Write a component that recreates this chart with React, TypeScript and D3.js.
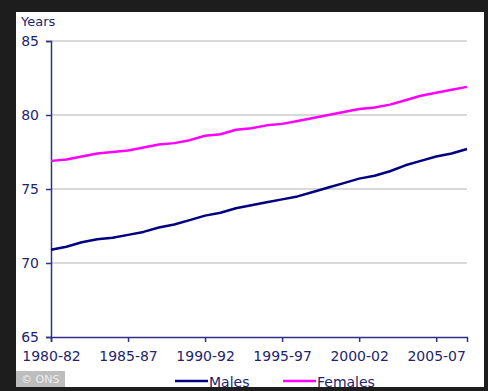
import React, { useEffect, useRef } from 'react';
import * as d3 from 'd3';

// Period labels, 1980-82 .. 2007-09
const periods = [
  '1980-82', '1981-83', '1982-84', '1983-85', '1984-86', '1985-87', '1986-88',
  '1987-89', '1988-90', '1989-91', '1990-92', '1991-93', '1992-94', '1993-95',
  '1994-96', '1995-97', '1996-98', '1997-99', '1998-00', '1999-01', '2000-02',
  '2001-03', '2002-04', '2003-05', '2004-06', '2005-07', '2006-08', '2007-09'
];

const males = [
  70.9, 71.1, 71.4, 71.6, 71.7, 71.9, 72.1, 72.4, 72.6, 72.9, 73.2, 73.4,
  73.7, 73.9, 74.1, 74.3, 74.5, 74.8, 75.1, 75.4, 75.7, 75.9, 76.2, 76.6,
  76.9, 77.2, 77.4, 77.7
];

const females = [
  76.9, 77.0, 77.2, 77.4, 77.5, 77.6, 77.8, 78.0, 78.1, 78.3, 78.6, 78.7,
  79.0, 79.1, 79.3, 79.4, 79.6, 79.8, 80.0, 80.2, 80.4, 80.5, 80.7, 81.0,
  81.3, 81.5, 81.7, 81.9
];

const yTicks = [65, 70, 75, 80, 85];
const xTickIdx = [0, 5, 10, 15, 20, 25];

const series = [
  { name: 'Males', values: males, color: '#000080' },
  { name: 'Females', values: females, color: '#ff00ff' }
];

const W = 488;
const H = 391;
const TEXT = '#24246e';
const AXIS = '#303088';

const App: React.FC = () => {
  const svgRef = useRef<SVGSVGElement>(null);

  useEffect(() => {
    if (!svgRef.current) return;
    const svg = d3.select(svgRef.current);
    svg.selectAll('*').remove();
    svg.style('font-family', '"DejaVu Sans", Verdana, sans-serif');

    // dark frame + white panel
    svg.append('rect').attr('width', W).attr('height', H).attr('fill', '#1d1d1d');
    svg.append('rect')
      .attr('x', 16).attr('y', 12)
      .attr('width', 468).attr('height', 375)
      .attr('fill', '#ffffff');

    const x = d3.scaleLinear().domain([0, periods.length - 1]).range([51, 467]);
    const y = d3.scaleLinear().domain([65, 85]).range([337, 41]);

    // gridlines
    svg.append('g')
      .selectAll('line')
      .data(yTicks.slice(1))
      .join('line')
      .attr('x1', x(0)).attr('x2', x(periods.length - 1))
      .attr('y1', d => y(d)).attr('y2', d => y(d))
      .attr('stroke', '#cccccc')
      .attr('stroke-width', 1.5);

    // y axis
    const yAxis = svg.append('g')
      .attr('transform', `translate(${x(0)},0)`)
      .call(d3.axisLeft(y).tickValues(yTicks).tickSize(5).tickPadding(7).tickFormat(d3.format('d')));
    yAxis.select('.domain').attr('stroke', AXIS).attr('stroke-width', 1.5);
    yAxis.selectAll('.tick line').attr('stroke', AXIS).attr('stroke-width', 1.5);
    yAxis.selectAll('.tick text')
      .attr('fill', TEXT)
      .style('font-size', '14px')
      .style('font-family', '"DejaVu Sans", Verdana, sans-serif');

    // x axis
    const xAxis = svg.append('g')
      .attr('transform', `translate(0,${y(65)})`)
      .call(d3.axisBottom(x).tickValues(xTickIdx).tickSize(5).tickPadding(9)
        .tickFormat(i => periods[i as number]));
    xAxis.select('.domain').attr('stroke', AXIS).attr('stroke-width', 1.5);
    xAxis.selectAll('.tick line').attr('stroke', AXIS).attr('stroke-width', 1.5);
    xAxis.selectAll('.tick text')
      .attr('fill', TEXT)
      .style('font-size', '14px')
      .style('font-family', '"DejaVu Sans", Verdana, sans-serif');

    // "Years" label
    svg.append('text')
      .attr('x', 21).attr('y', 26)
      .attr('fill', TEXT)
      .style('font-size', '13px')
      .text('Years');

    // lines
    const line = d3.line<number>()
      .x((_, i) => x(i))
      .y(d => y(d));

    svg.append('g')
      .selectAll('path')
      .data(series)
      .join('path')
      .attr('fill', 'none')
      .attr('stroke', d => d.color)
      .attr('stroke-width', 2.5)
      .attr('stroke-linejoin', 'round')
      .attr('d', d => line(d.values));

    // legend
    const legendX = [175, 283];
    const lg = svg.append('g')
      .selectAll('g')
      .data(series)
      .join('g')
      .attr('transform', (_, i) => `translate(${legendX[i]},381)`);
    lg.append('line')
      .attr('x1', 0).attr('x2', 33)
      .attr('stroke', d => d.color)
      .attr('stroke-width', 2.5);
    lg.append('text')
      .attr('x', 34).attr('y', 5.5)
      .attr('fill', TEXT)
      .style('font-size', '14px')
      .text(d => d.name);

    // © ONS badge
    svg.append('rect')
      .attr('x', 16).attr('y', 371)
      .attr('width', 49).attr('height', 16)
      .attr('fill', '#bdbdbd');
    svg.append('text')
      .attr('x', 21).attr('y', 383)
      .attr('fill', '#ececec')
      .style('font-size', '11px')
      .text('© ONS');
  }, []);

  return (
    <svg
      ref={svgRef}
      width={W}
      height={H}
      style={{ position: 'absolute', left: 0, top: 0 }}
    />
  );
};

export default App;
